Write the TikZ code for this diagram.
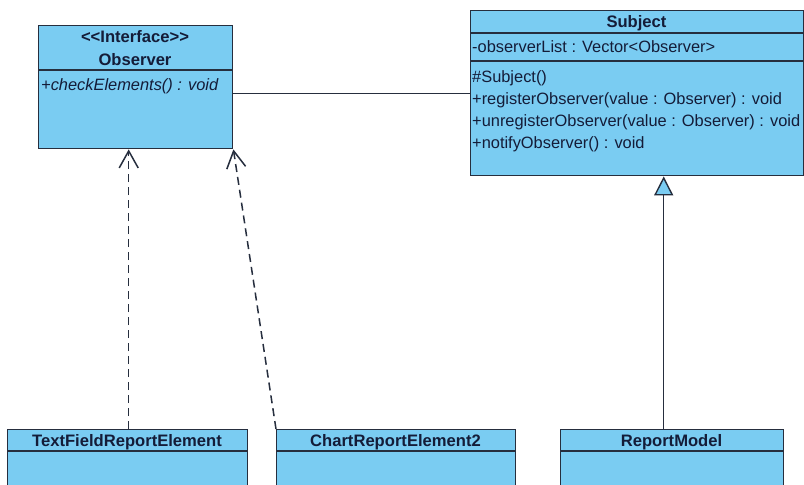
\documentclass[tikz,border=0pt]{standalone}
\usepackage{fontspec}
\newfontfamily\umlfont{Liberation Sans}
\usetikzlibrary{arrows.meta}
\definecolor{umlfill}{RGB}{122,204,242}
\definecolor{umlline}{RGB}{38,46,62}
\definecolor{umltext}{RGB}{20,28,56}
\begin{document}
\begin{tikzpicture}[x=1pt,y=-1pt,
  classbox/.style={draw=umlline, fill=umlfill, line width=1.4pt, rectangle,
                   inner sep=0pt, anchor=north west},
  ctitle/.style={font=\umlfont\fontsize{16.6}{18}\selectfont\bfseries,
                 text=umltext, anchor=base, inner sep=0pt},
  member/.style={font=\umlfont\fontsize{16.4}{18}\selectfont,
                 text=umltext, anchor=base west, inner sep=0pt},
  divider/.style={draw=umlline, line width=1.4pt},
  depend/.style={draw=umlline, line width=1.5pt, dash pattern=on 8pt off 5pt,
                 -{Straight Barb[length=17pt,width=19pt]}},
  inherit/.style={draw=umlline, line width=1.4pt,
                  -{Triangle[length=19pt,width=19pt,fill=umlfill]}},
  assoc/.style={draw=umlline, line width=1.4pt}
]
\useasboundingbox (0,0) rectangle (804,485);
\fill[white] (0,0) rectangle (804,485);
\clip (0,0) rectangle (804,485);

% Observer interface
\node[classbox, minimum width=194pt, minimum height=123pt] (obs) at (38,25) {};
\draw[divider] (obs.west |- 0,70) -- (obs.east |- 0,70);
\node[ctitle] (obsst) at (135,42) {<{}<Interface>{}>};
\node[ctitle] (obsname) at (135,65.5) {Observer};
\node[member, font=\umlfont\fontsize{16.4}{18}\selectfont\itshape] (obsop) at (41,90) {+checkElements() : void};

% Subject class
\node[classbox, minimum width=333pt, minimum height=165pt] (sub) at (470,10) {};
\draw[divider] (sub.west |- 0,33) -- (sub.east |- 0,33);
\draw[divider] (sub.west |- 0,61) -- (sub.east |- 0,61);
\node[ctitle] (subname) at (636.5,27.5) {Subject};
\node[member] (subattr) at (472,52.5) {-observerList : Vector<Observer>};
\node[member] (subop1) at (472,82.5) {\#Subject()};
\node[member] (subop2) at (472,104.5) {+registerObserver(value : Observer) : void};
\node[member] (subop3) at (472,126.5) {+unregisterObserver(value : Observer) : void};
\node[member] (subop4) at (472,148.5) {+notifyObserver() : void};

% Concrete classes along the bottom
\node[classbox, minimum width=240pt, minimum height=80pt] (tf) at (7,429) {};
\draw[divider] (tf.west |- 0,451) -- (tf.east |- 0,451);
\node[ctitle] (tfname) at (127,446) {TextFieldReportElement};

\node[classbox, minimum width=239pt, minimum height=80pt] (ch) at (276,429) {};
\draw[divider] (ch.west |- 0,451) -- (ch.east |- 0,451);
\node[ctitle] (chname) at (395.5,446) {ChartReportElement2};

\node[classbox, minimum width=223pt, minimum height=80pt] (rm) at (560,429) {};
\draw[divider] (rm.west |- 0,451) -- (rm.east |- 0,451);
\node[ctitle] (rmname) at (671.5,446) {ReportModel};

% Relationships
\draw[assoc] (obs.east |- sub.west) -- (sub.west);
\draw[depend] ([xshift=1pt]tf.north) -- ([xshift=1pt]tf.north |- obs.south);
\draw[depend] (ch.north west) -- (obs.south east);
\draw[inherit] ([xshift=-8.5pt]rm.north) -- ([xshift=-8.5pt]rm.north |- sub.south);
\end{tikzpicture}
\end{document}
